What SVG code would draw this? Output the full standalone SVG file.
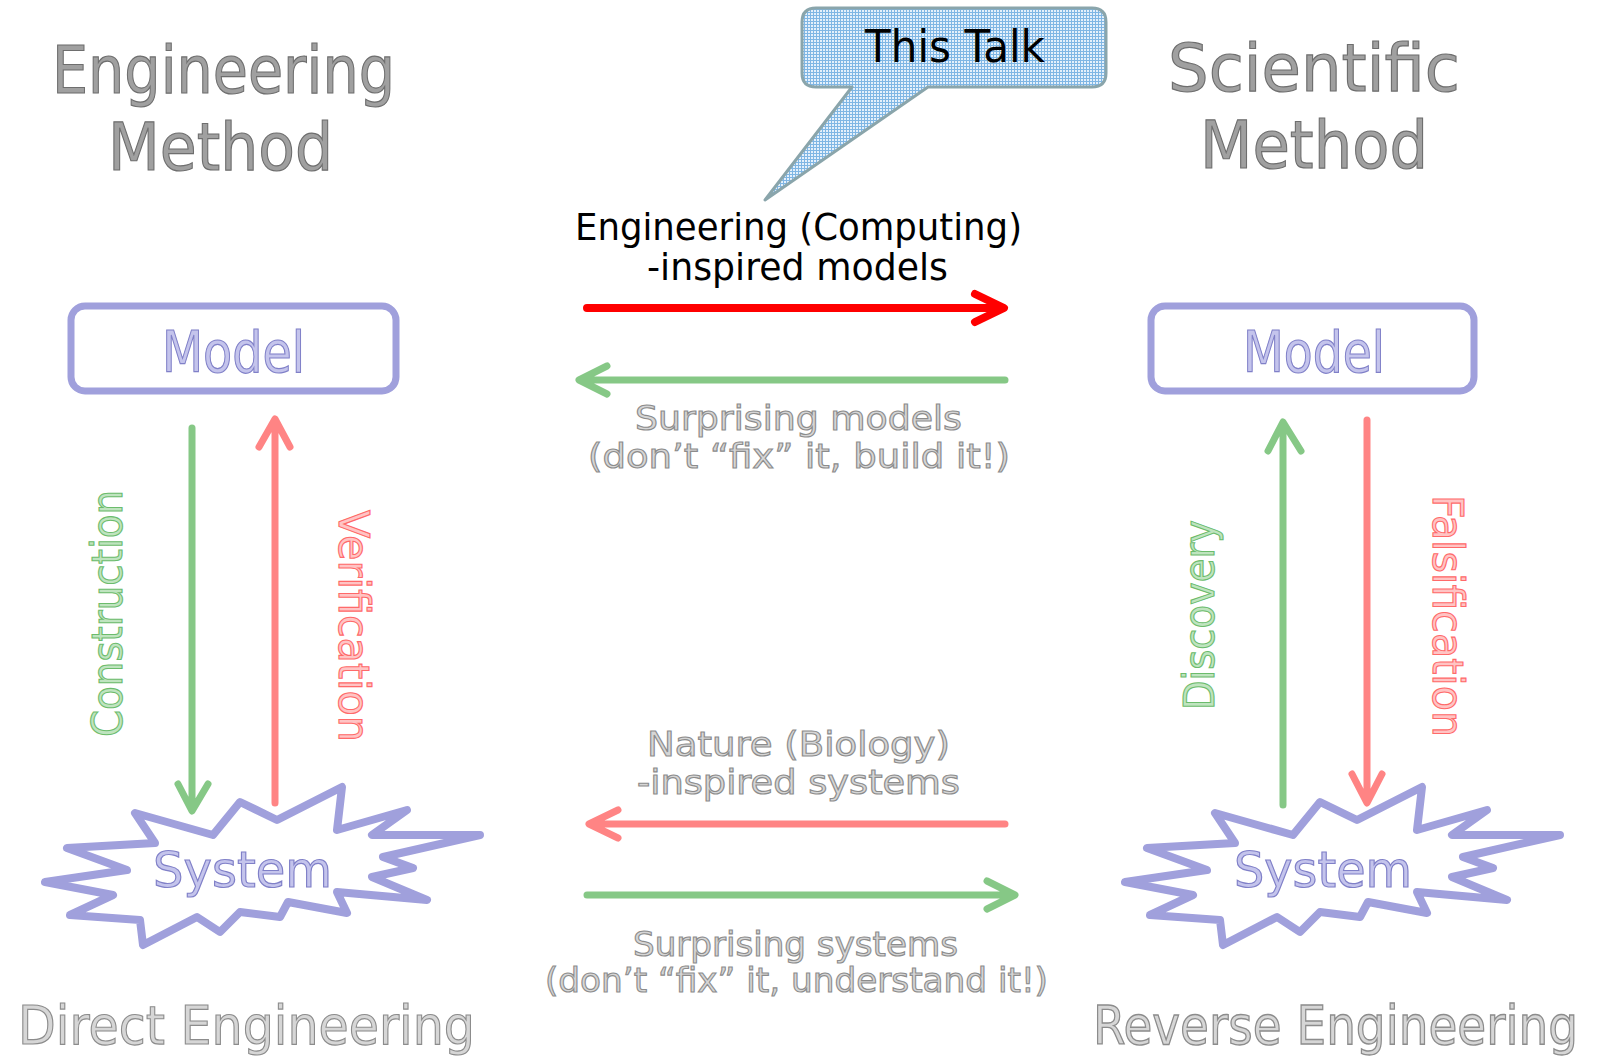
<svg xmlns="http://www.w3.org/2000/svg" width="1598" height="1060" viewBox="0 0 1598 1060">
<style>
text{font-family:"DejaVu Sans","Liberation Sans",sans-serif}
.title{font-size:66px;fill:#a0a0a0;stroke:#6e6e6e;stroke-width:1.2}
.grey{font-size:34px;fill:#d6d6d6;stroke:#8c8c8c;stroke-width:1.1}
.foot{font-size:54px;fill:#d6d6d6;stroke:#8c8c8c;stroke-width:1.2}
.blueT{fill:#c4c4ec;stroke:#8080c8;stroke-width:1.2}
.greenT{font-size:42px;fill:#bfe4bf;stroke:#6cbc6c;stroke-width:1.1}
.redT{font-size:42px;fill:#ffc4c4;stroke:#ff6a6a;stroke-width:1.1}
.black{fill:#000}
.box{fill:#fff;stroke:#a0a0dc;stroke-width:7}
.burst{fill:#fff;stroke:#a0a0dc;stroke-width:8;stroke-linejoin:round}
.arr{fill:none;stroke-linecap:round;stroke-linejoin:round}
.g{stroke:#86c886;stroke-width:7}
.r{stroke:#ff8484;stroke-width:7}
.main{stroke:#ff0000;stroke-width:8}
</style>
<defs>
<pattern id="grid" width="3" height="3" patternUnits="userSpaceOnUse">
<rect width="3" height="3" fill="#e4f0fb"/>
<path d="M0 0.5H3M0.5 0V3" stroke="#7fb6e4" stroke-width="1"/>
</pattern>
<polygon id="burstShape" points="135,813 213,835 240,802 277,820 342,787 337,830 407,810 372,835 480,835 383,857 413,868 372,877 427,900 337,892 347,913 288,902 280,917 240,912 220,932 197,917 143,945 140,920 70,915 113,895 45,882 127,870 67,848 155,843"/>
</defs>
<rect width="1598" height="1060" fill="#fff"/>

<g id="title-engineering">
<text class="title" x="52" y="93" textLength="343" lengthAdjust="spacingAndGlyphs">Engineering</text>
<text class="title" x="108" y="170" textLength="225" lengthAdjust="spacingAndGlyphs">Method</text>
</g>
<g id="title-scientific">
<text class="title" x="1168" y="91" textLength="292" lengthAdjust="spacingAndGlyphs">Scientific</text>
<text class="title" x="1200" y="168" textLength="228" lengthAdjust="spacingAndGlyphs">Method</text>
</g>

<g id="callout-this-talk">
<path d="M816,8 H1092 Q1106,8 1106,22 V73 Q1106,87 1092,87 H928 L765,200 L852,87 H816 Q802,87 802,73 V22 Q802,8 816,8 Z" fill="url(#grid)" stroke="#8aa5ab" stroke-width="3" stroke-linejoin="round"/>
<text class="black" x="865" y="62" font-size="44" textLength="180" lengthAdjust="spacingAndGlyphs">This Talk</text>
</g>

<g id="label-computing">
<text class="black" x="575" y="240" font-size="38" textLength="447" lengthAdjust="spacingAndGlyphs">Engineering (Computing)</text>
<text class="black" x="647" y="280" font-size="38" textLength="301" lengthAdjust="spacingAndGlyphs">-inspired models</text>
</g>

<g id="label-surprising-models">
<text class="grey" x="635" y="430" textLength="327" lengthAdjust="spacingAndGlyphs">Surprising models</text>
<text class="grey" x="588" y="468" textLength="422" lengthAdjust="spacingAndGlyphs">(don’t “fix” it, build it!)</text>
</g>

<g id="label-nature">
<text class="grey" x="647" y="756" textLength="303" lengthAdjust="spacingAndGlyphs">Nature (Biology)</text>
<text class="grey" x="637" y="794" textLength="323" lengthAdjust="spacingAndGlyphs">-inspired systems</text>
</g>

<g id="label-surprising-systems">
<text class="grey" x="633" y="956" textLength="325" lengthAdjust="spacingAndGlyphs">Surprising systems</text>
<text class="grey" x="545" y="992" textLength="503" lengthAdjust="spacingAndGlyphs">(don’t “fix” it, understand it!)</text>
</g>

<g id="model-left">
<rect class="box" x="71" y="306" width="325" height="85" rx="14"/>
<text class="blueT" x="162" y="372" font-size="57" textLength="143" lengthAdjust="spacingAndGlyphs">Model</text>
</g>
<g id="model-right">
<rect class="box" x="1151" y="306" width="323" height="85" rx="14"/>
<text class="blueT" x="1243" y="372" font-size="57" textLength="142" lengthAdjust="spacingAndGlyphs">Model</text>
</g>

<g id="system-left">
<use href="#burstShape" class="burst"/>
<text class="blueT" x="153" y="887" font-size="50" textLength="179" lengthAdjust="spacingAndGlyphs">System</text>
</g>
<g id="system-right">
<use href="#burstShape" class="burst" transform="translate(1080,0)"/>
<text class="blueT" x="1234" y="887" font-size="50" textLength="178" lengthAdjust="spacingAndGlyphs">System</text>
</g>

<g id="connectors">
<path class="arr main" d="M587,308 H1003 M975,294 L1004,308 L975,322"/>
<path class="arr g" d="M1005,380 H580 M607,366 L579,380 L607,394"/>
<path class="arr r" d="M1005,824 H590 M618,810 L589,824 L618,838"/>
<path class="arr g" d="M587,895 H1014 M987,881 L1015,895 L987,909"/>
<path class="arr g" d="M192,428 V810 M178,784 L192,811 L208,784"/>
<path class="arr r" d="M275,803 V420 M259,447 L275,419 L290,447"/>
<path class="arr g" d="M1283,805 V423 M1268,451 L1283,422 L1301,451"/>
<path class="arr r" d="M1367,420 V802 M1352,774 L1367,803 L1382,774"/>
</g>

<g id="label-construction">
<text class="greenT" transform="translate(122,737) rotate(-90)" textLength="247" lengthAdjust="spacingAndGlyphs">Construction</text>
</g>
<g id="label-verification">
<text class="redT" transform="translate(339,510) rotate(90)" textLength="232" lengthAdjust="spacingAndGlyphs">Verification</text>
</g>
<g id="label-discovery">
<text class="greenT" transform="translate(1214,710) rotate(-90)" textLength="190" lengthAdjust="spacingAndGlyphs">Discovery</text>
</g>
<g id="label-falsification">
<text class="redT" transform="translate(1433,495) rotate(90)" textLength="242" lengthAdjust="spacingAndGlyphs">Falsification</text>
</g>

<g id="footer-direct">
<text class="foot" x="18" y="1044" textLength="457" lengthAdjust="spacingAndGlyphs">Direct Engineering</text>
</g>
<g id="footer-reverse">
<text class="foot" transform="translate(1093,1044) scale(1,1.15)" style="font-size:46px" textLength="485" lengthAdjust="spacingAndGlyphs">Reverse Engineering</text>
</g>
</svg>
